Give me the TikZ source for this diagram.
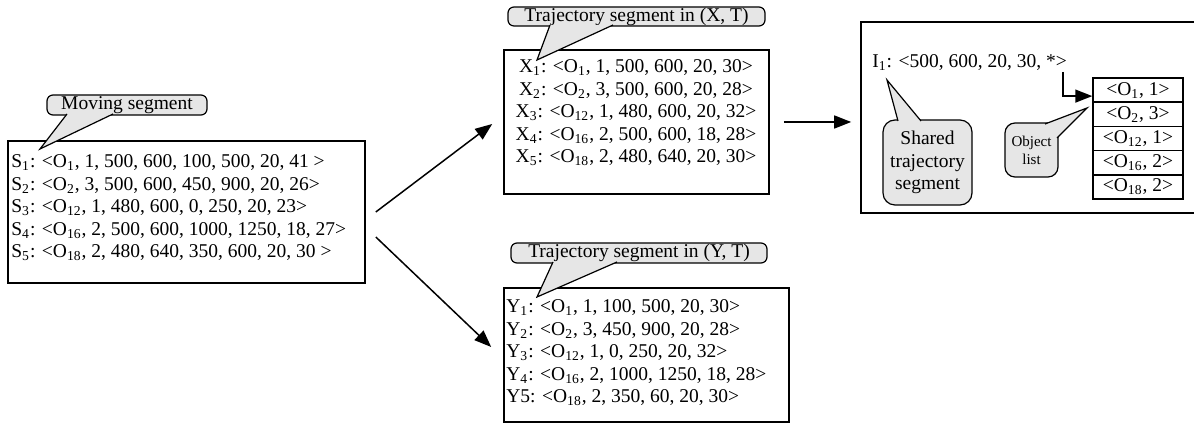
\documentclass[tikz,border=0pt]{standalone}
\usepackage{fontspec}
\setmainfont{Liberation Serif}
\usetikzlibrary{arrows.meta,fit}
\definecolor{cg}{HTML}{E6E6E6}
\newcommand{\sbs}[1]{\textsubscript{#1}}
\begin{document}
\begin{tikzpicture}[x=0.5pt,y=-0.5pt,
  font=\fontsize{9.75}{11.25}\selectfont,
  box/.style={draw, line width=0.8pt, inner sep=0pt},
  txt/.style={inner sep=0pt},
  callout/.style={draw, fill=cg, line width=0.6pt, rounded corners=3pt, inner sep=0pt},
  ptrfill/.style={fill=cg},
  ptrline/.style={line width=0.6pt, line join=miter},
  arr/.style={line width=0.75pt, -{Triangle[length=8.5pt,width=6.5pt]}},
  cell/.style={draw, line width=0.75pt, inner sep=0pt, minimum width=45pt, minimum height=12.1pt},
]
\useasboundingbox (0,0) rectangle (1194,426);

% ---- S box ----
\node[box, fit={(8,141) (365,283)}] (S) {};
\node[txt, anchor=west, align=left] (St) at (11,208) {%
S\sbs{1}: <O\sbs{1}, 1, 500, 600, 100, 500, 20, 41 >\\
S\sbs{2}: <O\sbs{2}, 3, 500, 600, 450, 900, 20, 26>\\
S\sbs{3}: <O\sbs{12}, 1, 480, 600, 0, 250, 20, 23>\\
S\sbs{4}: <O\sbs{16}, 2, 500, 600, 1000, 1250, 18, 27>\\
S\sbs{5}: <O\sbs{18}, 2, 480, 640, 350, 600, 20, 30 >};

% ---- X box ----
\node[box, fit={(504,50) (769,194)}] (X) {};
\node[txt, align=center] (Xt) at (636,113) {%
X\sbs{1}: <O\sbs{1}, 1, 500, 600, 20, 30>\\
X\sbs{2}: <O\sbs{2}, 3, 500, 600, 20, 28>\\
X\sbs{3}: <O\sbs{12}, 1, 480, 600, 20, 32>\\
X\sbs{4}: <O\sbs{16}, 2, 500, 600, 18, 28>\\
X\sbs{5}: <O\sbs{18}, 2, 480, 640, 20, 30>};

% ---- Y box ----
\node[box, fit={(504,288) (789,422)}] (Y) {};
\node[txt, anchor=west, align=left] (Yt) at (506,353) {%
Y\sbs{1}: <O\sbs{1}, 1, 100, 500, 20, 30>\\
Y\sbs{2}: <O\sbs{2}, 3, 450, 900, 20, 28>\\
Y\sbs{3}: <O\sbs{12}, 1, 0, 250, 20, 32>\\
Y\sbs{4}: <O\sbs{16}, 2, 1000, 1250, 18, 28>\\
Y5: <O\sbs{18}, 2, 350, 60, 20, 30>};

% ---- big right box ----
\node[box, fit={(861,22) (1205,213)}] (I) {};
\node[txt, anchor=west] (It) at (872,63) {I\sbs{1}: <500, 600, 20, 30, *>};

% ---- object list table ----
\node[cell] (r1) at (1138,90.1) {<O\sbs{1}, 1>};
\node[cell] (r2) at (1138,114.3) {<O\sbs{2}, 3>};
\node[cell] (r3) at (1138,138.5) {<O\sbs{12}, 1>};
\node[cell] (r4) at (1138,162.7) {<O\sbs{16}, 2>};
\node[cell] (r5) at (1138,186.9) {<O\sbs{18}, 2>};

% ---- callouts ----
\node[callout, minimum width=80pt, minimum height=10pt] (mv) at (127,105) {Moving segment};
\coordinate (mvt) at (40,149);
\fill[ptrfill] (67,114) -- (mvt) -- (113,114) -- cycle;
\draw[ptrline] (67,114) -- (mvt) -- (113,114);

\node[callout, minimum width=128.5pt, minimum height=9.5pt] (xc) at (636.5,16.5) {Trajectory segment in (X, T)};
\coordinate (xct) at (537,60);
\fill[ptrfill] (550,25) -- (xct) -- (613,25) -- cycle;
\draw[ptrline] (550,25) -- (xct) -- (613,25);

\node[callout, minimum width=128pt, minimum height=10pt] (yc) at (639,253) {Trajectory segment in (Y, T)};
\coordinate (yct) at (537,297);
\fill[ptrfill] (553,262) -- (yct) -- (617,262) -- cycle;
\draw[ptrline] (553,262) -- (yct) -- (617,262);

\node[callout, rounded corners=6pt, align=center, minimum width=44.5pt, minimum height=42.5pt] (sh)
  at (927.5,162.5) {Shared\\trajectory\\segment};
\coordinate (sht) at (887,80);
\fill[ptrfill] (898,121) -- (sht) -- (921,121) -- cycle;
\draw[ptrline] (898,121) -- (sht) -- (921,121);

\node[callout, rounded corners=5pt, align=center,
  font=\fontsize{7.5}{9}\selectfont, minimum width=26.5pt, minimum height=27pt] (ol)
  at (1031.5,150) {Object\\list};
\coordinate (olt) at (1087,108);
\fill[ptrfill] (1045,124) -- (olt) -- (1057,138) -- (1050,131) -- cycle;
\draw[ptrline] (1045,124) -- (olt) -- (1057,138);

% ---- arrows ----
\draw[arr] ([shift={(10,0)}]S.east) -- ([shift={(-11,2)}]X.west);
\draw[arr] ([shift={(10,25)}]S.east) -- ([shift={(-12,-8)}]Y.west);
\draw[arr] ([xshift=7pt]X.east) -- ([xshift=-4.5pt]X.east -| I.west);
\coordinate (el) at (1063,72);
\draw[arr, line join=miter] (el) |- ([yshift=-3pt]r1.west);
\end{tikzpicture}
\end{document}
